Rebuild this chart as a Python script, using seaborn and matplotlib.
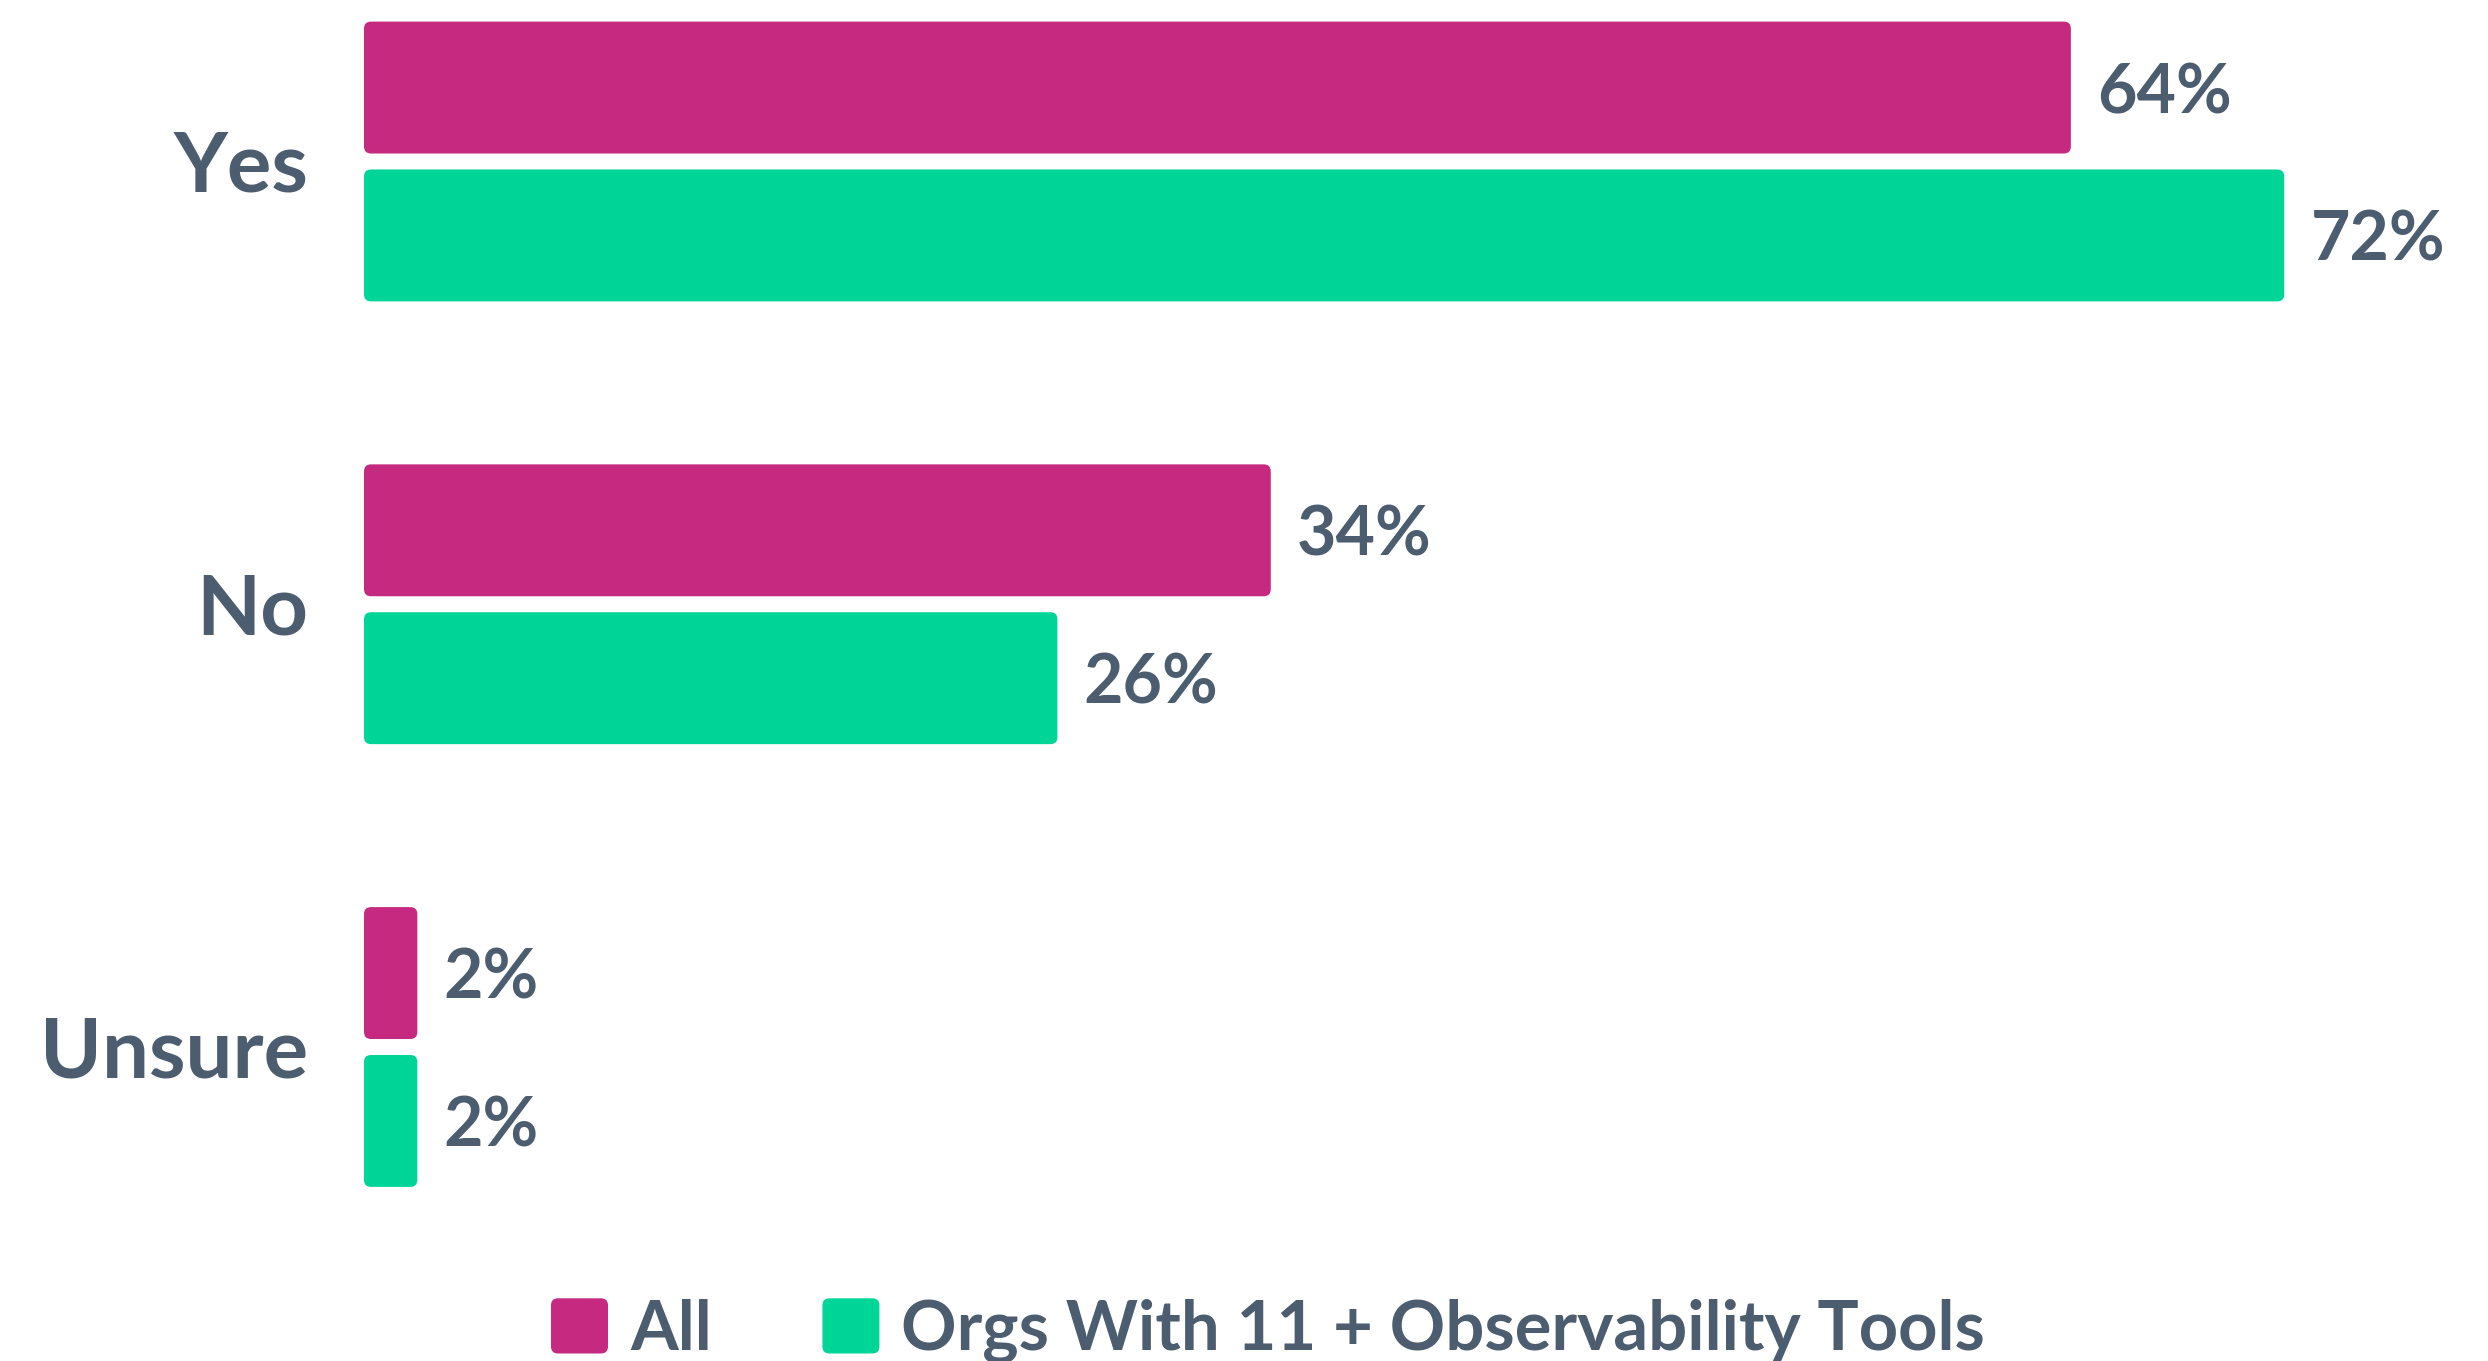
import matplotlib
matplotlib.use("Agg")
import matplotlib.pyplot as plt
import matplotlib.patches as mpatches
from matplotlib.legend_handler import HandlerPatch
import pandas as pd
import seaborn as sns

# Survey answers and the share of respondents for each group (percent)
answers = ["Yes", "No", "Unsure"]
groups = ["All", "Orgs With 11 + Observability Tools"]
all_pct = [64, 34, 2]
orgs_pct = [72, 26, 2]
colors = ["#C62A80", "#00D598"]
text_color = "#4B5D6F"

df = pd.DataFrame({
    "answer": answers * 2,
    "group": [groups[0]] * len(answers) + [groups[1]] * len(answers),
    "pct": all_pct + orgs_pct,
})

sns.set_theme(style="white")
plt.rcParams["font.family"] = ["Lato", "DejaVu Sans"]

W, H, DPI = 2488, 1361, 100
fig = plt.figure(figsize=(W / DPI, H / DPI), dpi=DPI)

x0_px, top_px, bot_px = 364, 0, 1250
ax = fig.add_axes([x0_px / W, (H - bot_px) / H, (W - x0_px) / W, (bot_px - top_px) / H])

sns.barplot(data=df, x="pct", y="answer", hue="group", order=answers,
            hue_order=groups, palette=colors, orient="h", width=0.668,
            gap=0.108, legend=False, ax=ax, saturation=1)

px_per_unit_x = 26.67
cat_px = 442.75
xmax = (W - x0_px) / px_per_unit_x
ax.set_xlim(0, xmax)
ax.set_ylim((bot_px - 161.5) / cat_px, (top_px - 161.5) / cat_px)

# value labels next to each bar end
for cont in ax.containers:
    texts = ax.bar_label(cont, labels=[f"{v:.0f}%" for v in cont.datavalues],
                         padding=19, fontsize=49, fontweight="bold",
                         color=text_color)
    for t in texts:
        t.set_va("center_baseline")

# swap plain rectangles for rounded ones
radius = 7 / px_per_unit_x
aspect = (1 / cat_px) / (1 / px_per_unit_x)
for rect in list(ax.patches):
    x, y = rect.get_x(), rect.get_y()
    w, h = rect.get_width(), rect.get_height()
    fc = rect.get_facecolor()
    rect.remove()
    ax.add_patch(mpatches.FancyBboxPatch(
        (x, y), w, h, boxstyle=f"round,pad=0,rounding_size={radius}",
        mutation_aspect=aspect, facecolor=fc, edgecolor="none"))

ax.set_xlabel("")
ax.set_ylabel("")
ax.set_xticks([])
ax.tick_params(axis="y", length=0, pad=40, labelsize=60, labelcolor=text_color)
for lab in ax.get_yticklabels():
    lab.set_fontweight("bold")
    lab.set_va("center_baseline")
sns.despine(ax=ax, left=True, bottom=True)


def rounded_handle(legend, orig_handle, xdescent, ydescent, width, height, fontsize):
    return mpatches.FancyBboxPatch((-xdescent, -ydescent), width, height,
                                   boxstyle="round,pad=0,rounding_size=5")


leg_fs = 49.5
handles = [mpatches.Patch(facecolor=c, edgecolor="none") for c in colors]
leg = fig.legend(handles, groups, loc="center left",
                 bbox_to_anchor=(551 / W, (H - 1331) / H), ncol=2, frameon=False,
                 fontsize=leg_fs, handlelength=0.855 * 48 / leg_fs,
                 handleheight=0.885 * 48 / leg_fs,
                 handletextpad=0.33 * 48 / leg_fs, columnspacing=1.66 * 48 / leg_fs,
                 borderpad=0, borderaxespad=0,
                 handler_map={mpatches.Patch: HandlerPatch(patch_func=rounded_handle)})
for t in leg.get_texts():
    t.set_color(text_color)
    t.set_fontweight("bold")

fig.savefig("out.png", dpi=DPI)
